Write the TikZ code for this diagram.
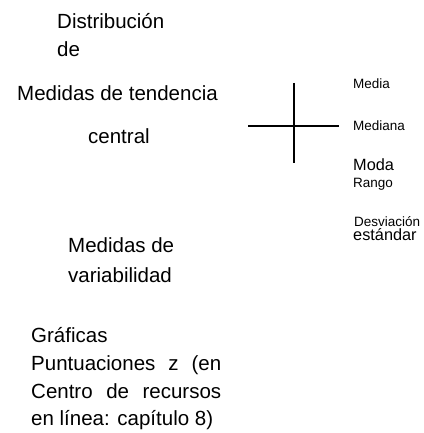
\documentclass[tikz,border=0pt]{standalone}
\usepackage{fontspec}
\setmainfont{Liberation Sans}
\hbadness=10000
\tikzset{
  big/.style={anchor=base west, inner sep=0pt, font=\fontsize{20.5}{24}\selectfont},
  small/.style={anchor=base west, inner sep=0pt, font=\fontsize{13.5}{16}\selectfont},
  mid/.style={anchor=base west, inner sep=0pt, font=\fontsize{16.3}{19}\selectfont},
  crossline/.style={line width=1.6pt, black}
}
\begin{document}
\begin{tikzpicture}[x=1pt,y=-1pt]
\fill[white] (0,0) rectangle (423,433);
\useasboundingbox (0,0) rectangle (423,433);
\node[big] (dist) at (57,29) {Distribuci\'on};
\node[big] (de) at (57,57) {de};
\node[big] (mtc) at (17,101) {Medidas de tendencia};
\node[big] (central) at (88,143) {central};
\coordinate (vtop) at (293.7,83);
\coordinate (vbot) at (293.7,163);
\coordinate (hl) at (248,126);
\coordinate (hr) at (339,126);
\draw[crossline] (vtop) -- (vbot);
\draw[crossline] (hl) -- (hr);
\node[small] (media) at (353,89) {Media};
\node[small] (mediana) at (353,130) {Mediana};
\node[mid] (moda) at (353,170) {Moda};
\node[small] (rango) at (353,187) {Rango};
\node[small] (desv) at (354,226) {Desviaci\'on};
\node[mid] (est) at (353,240) {est\'andar};
\node[big] (mv1) at (68,252) {Medidas de};
\node[big] (mv2) at (68,282) {variabilidad};
\node[big] (graf) at (31,342) {Gr\'aficas};
\node[big] (p1) at (31,370) {\hbox to 190pt{Puntuaciones z (en}};
\node[big] (p2) at (31,398) {\hbox to 190pt{Centro de recursos}};
\node[big] (p3) at (31,425) {\hbox to 182pt{en l\'{\i}nea: cap\'{\i}tulo 8)}};
\end{tikzpicture}
\end{document}
